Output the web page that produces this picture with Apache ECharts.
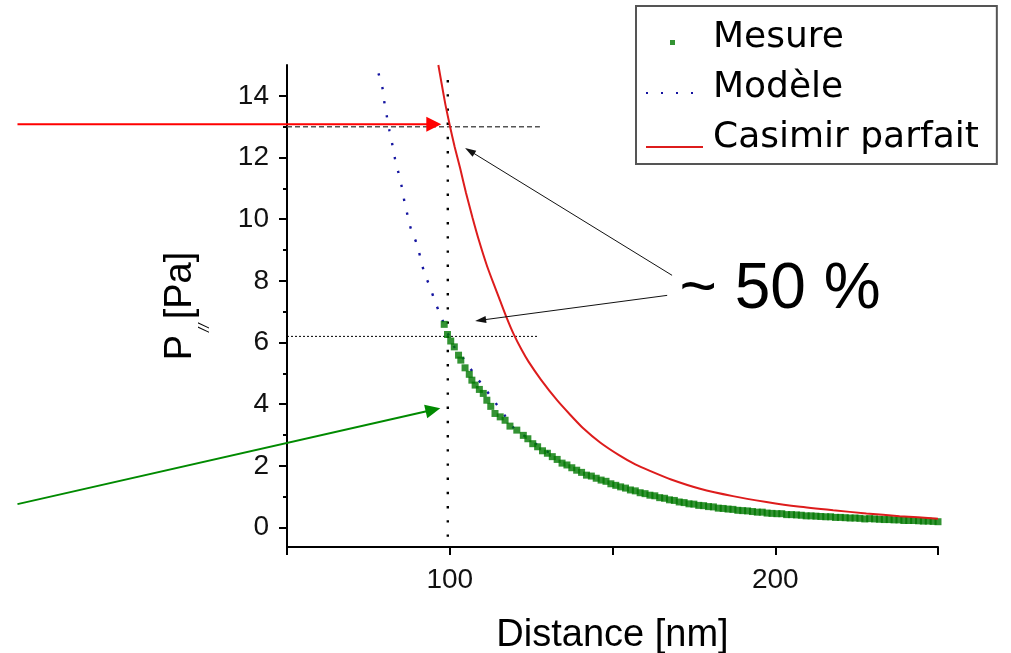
<!DOCTYPE html>
<html>
<head>
<meta charset="utf-8">
<script src="https://cdn.jsdelivr.net/npm/echarts@6/dist/echarts.min.js"></script>
<style>
html,body{margin:0;padding:0;background:#fff;}
#chart{width:1011px;height:653px;}
</style>
</head>
<body>
<div id="chart"></div>
<script>
// ---- data ----
const mesX = [98.3, 99.3, 100.3, 101.4, 102.7, 103.4, 104.7, 106.0, 106.8, 107.8, 109.1, 110.3, 111.4, 112.6, 113.9, 115.5, 117.0, 118.5, 120.6, 122.6,
  124, 125.5, 127, 128.5, 130, 131.5, 133, 134.5, 136, 137.5, 139, 140.5, 142, 143.5, 145, 146.5, 148, 149.5, 151, 152.5,
  154, 155.5, 157, 158.5, 160, 161.5, 163, 164.5, 166, 167.5, 169, 170.5, 172, 173.5, 175, 176.5, 178, 179.5, 181, 182.5,
  184, 185.5, 187, 188.5, 190, 191.5, 193, 194.5, 196, 197.5, 199, 200.5, 202, 203.5, 205, 206.5, 208, 209.5, 211, 212.5,
  214, 215.5, 217, 218.5, 220, 221.5, 223, 224.5, 226, 227.5, 229, 230.5, 232, 233.5, 235, 236.5, 238, 239.5, 241, 242.5,
  244, 245.5, 247, 248.5, 250];
const mesY = [6.59, 6.26, 6.05, 5.86, 5.59, 5.43, 5.18, 4.97, 4.78, 4.62, 4.48, 4.35, 4.13, 3.93, 3.70, 3.59, 3.48, 3.29, 3.16, 2.99,
  2.88, 2.72, 2.62, 2.49, 2.41, 2.30, 2.21, 2.09, 2.03, 1.94, 1.86, 1.79, 1.70, 1.67, 1.60, 1.54, 1.50, 1.42, 1.37, 1.32,
  1.28, 1.22, 1.19, 1.13, 1.10, 1.05, 1.03, 0.97, 0.95, 0.90, 0.88, 0.83, 0.81, 0.77, 0.76, 0.72, 0.71, 0.68, 0.67, 0.63,
  0.62, 0.60, 0.59, 0.56, 0.55, 0.54, 0.52, 0.50, 0.50, 0.47, 0.46, 0.45, 0.45, 0.42, 0.42, 0.41, 0.40, 0.38, 0.38, 0.37,
  0.36, 0.35, 0.35, 0.33, 0.33, 0.32, 0.31, 0.31, 0.30, 0.28, 0.29, 0.28, 0.27, 0.26, 0.26, 0.25, 0.25, 0.23, 0.23, 0.23,
  0.22, 0.21, 0.21, 0.20, 0.19];

const modX = [78.1, 79.3, 79.9, 80.7, 81.5, 82.4, 83.2, 84.3, 85.3, 86.1, 87.1, 88.2, 89.9, 91.1, 92.2, 94.0, 95.5, 97.3,
  101.1, 104.2, 107.3, 110.6, 113.6, 117.0, 120.1, 124.7, 128.7, 133.3];
const modY = [14.73, 14.27, 13.80, 13.32, 12.86, 12.40, 11.95, 11.48, 11.03, 10.56, 10.10, 9.64, 9.19, 8.70, 8.26, 7.78, 7.32, 6.85,
  5.91, 5.48, 5.01, 4.54, 4.11, 3.62, 3.18, 2.86, 2.54, 2.28];

const casX = [96.5, 97.5, 98.7, 100.1, 101.5, 103.2, 105, 107, 109, 111.4, 113.5, 115.5, 117.5, 119.6, 122, 124.2, 128, 132.9,
  137, 141, 146.2, 152, 157, 161.5, 168, 176.9, 187, 197.3, 207, 217.8, 228, 238.2, 250];
const casY = [15.0, 14.4, 13.7, 13.0, 12.35, 11.65, 10.85, 10.05, 9.3, 8.5, 7.9, 7.35, 6.8, 6.28, 5.78, 5.38, 4.8, 4.14,
  3.66, 3.22, 2.76, 2.35, 2.05, 1.84, 1.56, 1.26, 1.02, 0.83, 0.68, 0.56, 0.46, 0.37, 0.29];

const seriesNames = ['Mesure', 'Modèle', 'Casimir parfait'];
const xTickLabels = [100, 200];
const yTickLabels = [0, 2, 4, 6, 8, 10, 12, 14];
const yMinorTicks = [1, 3, 5, 7, 9, 11, 13];

// reference lines (data coordinates)
const vDotX = [99.4, 99.4], vDotY = [-0.3, 14.6];
const h13X = [50, 127.7], h13Y = [13, 13];
const h62X = [50, 127.2], h62Y = [6.2, 6.2];

// annotation arrows (data coordinates: [start, tip])
const arrowRed = [[-32.8, 13.08], [97.4, 13.08]];
const arrowGreen = [[-32.8, 0.76], [97.1, 3.87]];
const arrowBlack1 = [[168.3, 8.18], [104.7, 12.31]];
const arrowBlack2 = [[166.8, 7.53], [107.8, 6.70]];
const pctText = '~ 50 %';
const pctAt = [201.5, 7.7];

const zip = (xs, ys) => xs.map((x, i) => [x, ys[i]]);
const SANS = '"Liberation Sans", Arial, sans-serif';

// legend icons (bounding box 57 x 20, mark drawn near the bottom)
const ICON_MES = 'path://M0,0 M57,20 M24,12 L29,12 L29,17 L24,17 Z';
const ICON_MOD = 'path://M0,0 M57,20 M0,14 h2 v2 h-2 Z M15,14 h2 v2 h-2 Z M30,14 h2 v2 h-2 Z M45,14 h2 v2 h-2 Z';
const ICON_CAS = 'path://M0,0 M57,20 M0,18 L57,18 L57,20 L0,20 Z';

const chart = echarts.init(document.getElementById('chart'));
chart.setOption({
  animation: false,
  backgroundColor: '#ffffff',
  grid: { left: 287, right: 73, top: 65, bottom: 106, containLabel: false, outerBoundsMode: 'none' },
  legend: {
    data: [
      { name: 'Mesure', icon: ICON_MES },
      { name: 'Modèle', icon: ICON_MOD },
      { name: 'Casimir parfait', icon: ICON_CAS }
    ],
    orient: 'vertical',
    left: 636, top: 6,
    padding: [14, 18, 8, 10],
    itemWidth: 57, itemHeight: 20,
    symbolKeepAspect: true,
    itemGap: 14,
    borderColor: '#555', borderWidth: 2,
    selectedMode: false,
    textStyle: { fontFamily: '"DejaVu Sans", sans-serif', fontSize: 36, lineHeight: 36, color: '#000', padding: [0, 0, 0, 5] }
  },
  xAxis: {
    type: 'value', min: 50, max: 250, interval: 50,
    name: 'Distance [nm]', nameLocation: 'middle', nameGap: 70,
    nameTextStyle: { fontFamily: SANS, fontSize: 38, color: '#000' },
    axisLine: { show: true, onZero: false, lineStyle: { color: '#000', width: 2 } },
    axisTick: { show: true, length: 8, lineStyle: { color: '#000', width: 2 } },
    axisLabel: {
      margin: 19, fontFamily: SANS, fontSize: 28, color: '#111',
      formatter: v => (xTickLabels.indexOf(v) >= 0 ? String(v) : '')
    },
    splitLine: { show: false }
  },
  yAxis: [{
    type: 'value', min: -0.63, max: 15,
    name: '{a|P}{b|//} {a|[Pa]}', nameLocation: 'middle', nameGap: 75,
    nameTextStyle: {
      color: '#000',
      rich: {
        a: { fontFamily: SANS, fontSize: 38, color: '#000' },
        b: { fontFamily: SANS, fontSize: 15, fontStyle: 'italic', color: '#000', padding: [48, 1, 0, 3] }
      }
    },
    axisLine: { show: true, onZero: false, lineStyle: { color: '#000', width: 2 } },
    axisTick: { show: true, length: 8, customValues: yTickLabels, lineStyle: { color: '#000', width: 2 } },
    axisLabel: { margin: 18, fontFamily: SANS, fontSize: 28, color: '#111', customValues: yTickLabels },
    splitLine: { show: false }
  }, {
    type: 'value', min: -0.63, max: 15, position: 'left',
    axisLine: { show: false },
    axisTick: { show: true, length: 4, customValues: yMinorTicks, lineStyle: { color: '#000', width: 2 } },
    axisLabel: { show: false },
    splitLine: { show: false }
  }],
  series: [
    { type: 'line', data: zip(vDotX, vDotY), symbol: 'none', silent: true, z: 1,
      lineStyle: { color: '#000', width: 2.4, type: [2.4, 11.8] } },
    { type: 'line', data: zip(h13X, h13Y), symbol: 'none', silent: true, z: 1,
      lineStyle: { color: '#555', width: 1.4, type: [5, 3] } },
    { type: 'line', data: zip(h62X, h62Y), symbol: 'none', silent: true, z: 1,
      lineStyle: { color: '#000', width: 1, type: [2, 2] } },
    { name: 'Modèle', type: 'line', data: zip(modX, modY), symbol: 'none', smooth: 0.3, z: 2,
      lineStyle: { color: '#1414a0', width: 2.4, type: [2.4, 11.8] }, itemStyle: { color: '#1414a0' } },
    { name: 'Mesure', type: 'scatter', data: zip(mesX, mesY), symbol: 'rect', symbolSize: 7, z: 3,
      itemStyle: { color: '#007800' } },
    { name: 'Casimir parfait', type: 'line', data: zip(casX, casY), symbol: 'none', smooth: 0.2, z: 4,
      lineStyle: { color: '#dd1c1c', width: 2 }, itemStyle: { color: '#dd1c1c' } }
  ]
});

function arrow(seg, color, width, headLen, headHalf) {
  const p0 = chart.convertToPixel({ gridIndex: 0 }, seg[0]);
  const p1 = chart.convertToPixel({ gridIndex: 0 }, seg[1]);
  const dx = p1[0] - p0[0], dy = p1[1] - p0[1];
  const len = Math.sqrt(dx * dx + dy * dy);
  const ux = dx / len, uy = dy / len;
  const bx = p1[0] - ux * headLen, by = p1[1] - uy * headLen;
  const px = -uy, py = ux;
  return [
    { type: 'line', silent: true, z: 10, shape: { x1: p0[0], y1: p0[1], x2: bx + ux * 1, y2: by + uy * 1 },
      style: { stroke: color, lineWidth: width } },
    { type: 'polygon', silent: true, z: 10,
      shape: { points: [[p1[0], p1[1]], [bx + px * headHalf, by + py * headHalf], [bx - px * headHalf, by - py * headHalf]] },
      style: { fill: color } }
  ];
}

const tp = chart.convertToPixel({ gridIndex: 0 }, pctAt);
chart.setOption({
  graphic: [].concat(
    arrow(arrowRed, '#ff0000', 2, 15, 7.5),
    arrow(arrowGreen, '#008a00', 2, 15, 7),
    arrow(arrowBlack1, '#111', 1, 11, 3.5),
    arrow(arrowBlack2, '#111', 1, 11, 3.5),
    [{ type: 'text', silent: true, z: 10, x: tp[0], y: tp[1],
       style: { text: pctText, fontFamily: SANS, fontSize: 64, fill: '#000', align: 'center', verticalAlign: 'middle' } }]
  )
});
</script>
</body>
</html>
